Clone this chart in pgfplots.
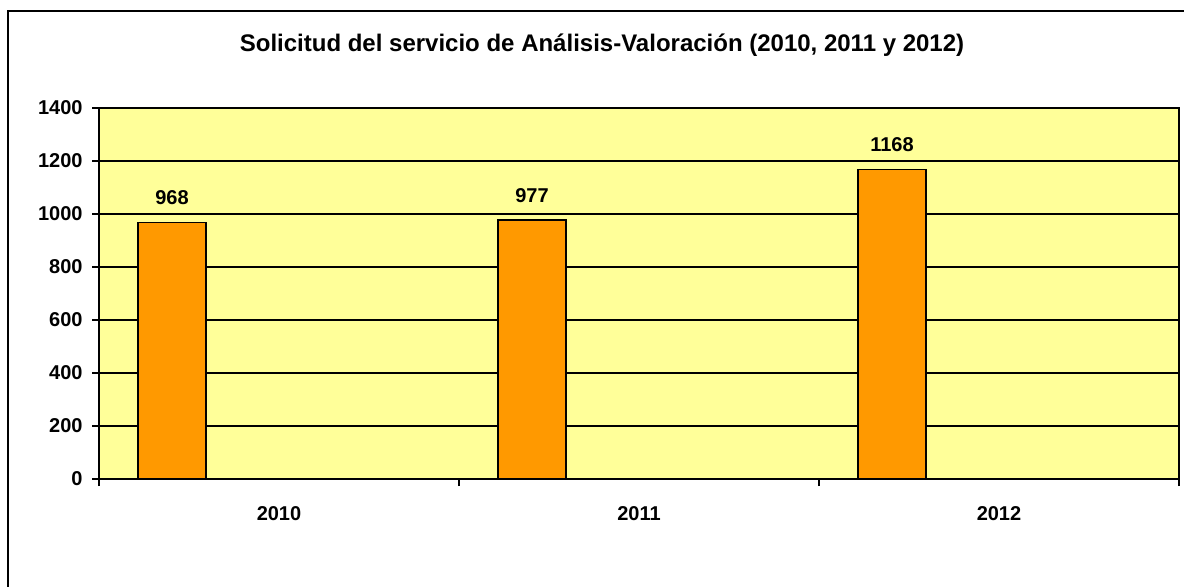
\documentclass[border=0pt]{standalone}
\usepackage{pgfplots}
\pgfplotsset{compat=1.18}
\usepackage{fontspec}
\setmainfont{Liberation Sans}
\definecolor{plotbg}{HTML}{FFFF99}
\definecolor{barorange}{HTML}{FF9900}

\begin{document}
\begin{tikzpicture}
\useasboundingbox (0,0) rectangle (592pt,293pt);
% outer chart frame (cut off at right and bottom in the reference)
\draw[line width=1pt] (4pt,-5pt) -- (4pt,287.5pt) -- (600pt,287.5pt);
\node[font=\bfseries\fontsize{12}{14}\selectfont] at (301pt,270.5pt)
  {Solicitud del servicio de Análisis-Valoración (2010, 2011 y 2012)};
\begin{axis}[
    at={(49.5pt,53.5pt)}, anchor=south west,
    scale only axis, width=540pt, height=185.5pt,
    xmin=-0.5, xmax=2.5, ymin=0, ymax=1400,
    ytick={0,200,...,1400},
    xtick={0,1,2}, xticklabels={2010,2011,2012},
    minor xtick={-0.5,0.5,1.5,2.5},
    major x tick style={draw=none},
    xtick pos=bottom, ytick pos=left,
    tick align=outside,
    major tick length=3.5pt, minor tick length=3.5pt,
    tick style={black, line width=1pt},
    axis line style={black, line width=1.3pt},
    axis background/.style={fill=plotbg},
    ymajorgrids, grid style={black, line width=0.9pt},
    /pgf/number format/assume math mode=true,
    /pgf/number format/1000 sep={},
    tick label style={font=\bfseries\fontsize{10}{12}\selectfont},
    yticklabel style={anchor=east, inner sep=0pt, xshift=-4.5pt},
    xticklabel style={anchor=center, yshift=-14pt},
    nodes near coords,
    nodes near coords style={font=\bfseries\fontsize{10}{12}\selectfont, anchor=south, inner sep=0pt, xshift=-53.5pt, yshift=8.5pt},
]
\addplot[ybar, fill=barorange, draw=black, line width=0.8pt, bar width=0.189, bar shift=-0.297]
  coordinates {(0,968) (1,977) (2,1168)};
\end{axis}
\end{tikzpicture}
\end{document}
